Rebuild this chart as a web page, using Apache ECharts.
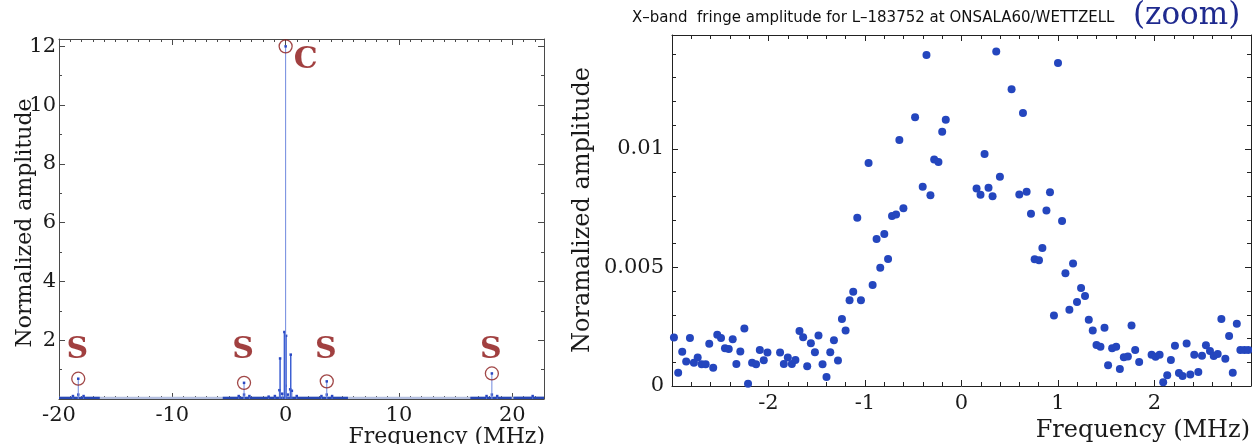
<!DOCTYPE html>
<html><head><meta charset="utf-8">
<script src="https://cdn.jsdelivr.net/npm/echarts@6/dist/echarts.min.js"></script>
<style>html,body{margin:0;padding:0;background:#fff}#c{width:1252px;height:444px}</style>
</head><body><div id="c"></div>
<script>
// ---------- Left panel: full fringe amplitude spectrum ----------
const peakFreq  = [-18.3, -3.67, 0.0, 3.63, 18.2];
const peakAmp   = [0.69, 0.55, 12.0, 0.60, 0.87];
const peakLabel = ['S', 'S', 'C', 'S', 'S'];
const lobeFreq  = [-0.49, -0.11, 0.04, 0.45];
const lobeAmp   = [1.38, 2.28, 2.15, 1.51];
const smallFreq = [-18.77, -18.3, -17.83, -4.14, -3.67, -3.20, -1.5, -0.95, -0.55, -0.3, -0.02, 0.2, 0.40, 0.55, 0.98, 3.16, 3.63, 4.10, 17.73, 18.2, 18.67, 21.8];
const smallAmp  = [0.10, 0.15, 0.10, 0.10, 0.15, 0.10, 0.08, 0.10, 0.30, 0.18, 0.45, 0.15, 0.33, 0.28, 0.10, 0.10, 0.15, 0.10, 0.10, 0.15, 0.10, 0.10];
const denseStart = [-20, -5.55, 16.3, 20.1];
const denseEnd   = [-16.4, 5.5, 19.95, 22.8];
const baseLevel  = 0.02;
const leftXTicks = [-20, -10, 0, 10, 20];
const leftYTicks = [2, 4, 6, 8, 10, 12];

// ---------- Right panel: zoom ----------
const zoomFreq = [-2.980,-2.936,-2.894,-2.853,-2.814,-2.773,-2.734,-2.693,-2.651,-2.614,-2.573,-2.531,-2.492,-2.451,-2.412,-2.371,-2.333,-2.292,-2.250,-2.212,-2.170,-2.129,-2.090,-2.049,-2.011,
  -1.880,-1.841,-1.800,-1.758,-1.721,-1.679,-1.641,-1.599,-1.561,-1.519,-1.482,-1.440,-1.399,-1.360,-1.322,-1.280,-1.239,-1.201,-1.160,-1.122,-1.080,-1.042,
  -0.963,-0.921,-0.880,-0.842,-0.800,-0.761,-0.720,-0.678,-0.644,-0.602,-0.481,-0.402,-0.363,-0.322,-0.283,-0.239,-0.200,-0.163,
  0.156,0.197,0.239,0.280,0.322,0.360,0.398,0.519,0.599,0.637,0.675,0.720,0.758,0.803,0.838,0.880,0.917,
  0.958,1.000,1.042,1.077,1.118,1.156,1.197,1.239,1.280,1.319,1.360,1.399,1.440,1.482,1.519,1.561,1.603,1.641,1.682,1.724,1.762,1.800,1.841,
  1.970,2.011,2.053,2.090,2.132,2.170,2.212,2.253,2.291,2.333,2.371,2.412,2.454,2.492,2.533,2.575,2.614,2.655,2.693,2.734,2.773,2.811,2.853,2.890,2.932,2.973];
const zoomAmp = [0.00204,0.00056,0.00144,0.00103,0.00202,0.00098,0.00120,0.00092,0.00092,0.00178,0.00077,0.00216,0.00202,0.00159,0.00156,0.00197,0.00093,0.00145,0.00242,0.00010,0.00098,0.00092,0.00152,0.00109,0.00141,
  0.00141,0.00093,0.00120,0.00093,0.00110,0.00232,0.00206,0.00083,0.00180,0.00142,0.00213,0.00092,0.00038,0.00142,0.00193,0.00107,0.00282,0.00234,0.00362,0.00397,0.00709,0.00362,
  0.00940,0.00426,0.00620,0.00499,0.00641,0.00535,0.00717,0.00723,0.01037,0.00749,0.01133,0.00840,0.01396,0.00804,0.00955,0.00944,0.01072,0.01123,
  0.00833,0.00806,0.00978,0.00836,0.00800,0.01410,0.00882,0.01251,0.00807,0.01151,0.00819,0.00726,0.00534,0.00530,0.00582,0.00740,0.00817,
  0.00297,0.01362,0.00696,0.00475,0.00321,0.00516,0.00354,0.00413,0.00379,0.00279,0.00234,0.00173,0.00166,0.00246,0.00087,0.00159,0.00165,0.00072,0.00121,0.00124,0.00255,0.00152,0.00101,
  0.00132,0.00123,0.00132,0.00016,0.00045,0.00110,0.00170,0.00055,0.00042,0.00179,0.00048,0.00132,0.00059,0.00128,0.00172,0.00148,0.00127,0.00135,0.00282,0.00115,0.00211,0.00056,0.00262,0.00152,0.00152,0.00152];

const SERIF = '"DejaVu Serif", "Liberation Serif", serif';
const chart = echarts.init(document.getElementById('c'), null, {renderer: 'canvas'});

const leftFrame = '#4a4a4a', rightFrame = '#222';
function axisCommon(color, showLabel, labelSize) {
  return {
    splitLine: {show: false},
    axisLine: {show: true, onZero: false, lineStyle: {color: color, width: 1}},
    axisTick: {show: true, inside: true, length: 6, lineStyle: {color: color}},
    minorTick: {show: true, length: 3, lineStyle: {color: color}},
    axisLabel: {show: showLabel, color: '#1a1a1a', fontFamily: SERIF, fontSize: labelSize, margin: 5,
      showMinLabel: true, showMaxLabel: false}
  };
}

function stemRender(stemColor, stemWidth, dotColor, dotSize) {
  return function (params, api) {
    const x = api.value(0), v = api.value(1);
    const p0 = api.coord([x, 0]);
    const p1 = api.coord([x, v]);
    return {type: 'group', children: [
      {type: 'line', shape: {x1: p0[0], y1: p0[1], x2: p1[0], y2: p1[1]}, style: {stroke: stemColor, lineWidth: stemWidth}},
      {type: 'rect', shape: {x: p1[0] - dotSize / 2, y: p1[1] - dotSize / 2, width: dotSize, height: dotSize}, style: {fill: dotColor}}
    ]};
  };
}
function bandRender(color, width) {
  return function (params, api) {
    const a = api.coord([api.value(0), api.value(2)]);
    const b = api.coord([api.value(1), api.value(2)]);
    return {type: 'line', shape: {x1: a[0], y1: a[1], x2: b[0], y2: b[1]}, style: {stroke: color, lineWidth: width}};
  };
}

const xmin = leftXTicks[0], xmaxL = 22.8;
const option = {
  animation: false,
  backgroundColor: '#fff',
  grid: [
    {left: 59, top: 39, width: 485, height: 360, outerBoundsMode: 'none', containLabel: false},
    {left: 672, top: 35, width: 579, height: 351, outerBoundsMode: 'none', containLabel: false}
  ],
  xAxis: [
    Object.assign(axisCommon(leftFrame, true, 20), {gridIndex: 0, type: 'value', position: 'bottom', min: xmin, max: xmaxL, interval: 10,
      minorTick: {show: true, splitNumber: 10, length: 3, lineStyle: {color: leftFrame}},
      axisLabel: {color: '#1a1a1a', fontFamily: SERIF, fontSize: 21, margin: 6, showMaxLabel: false,
        formatter: v => leftXTicks.indexOf(v) >= 0 ? String(v) : ''}}),
    Object.assign(axisCommon(leftFrame, false, 20), {gridIndex: 0, type: 'value', position: 'top', min: xmin, max: xmaxL, interval: 10,
      minorTick: {show: true, splitNumber: 10, length: 3, lineStyle: {color: leftFrame}}}),
    Object.assign(axisCommon(rightFrame, true, 21), {gridIndex: 1, type: 'value', position: 'bottom', min: -3, max: 3, interval: 1,
      minorTick: {show: true, splitNumber: 5, length: 4, lineStyle: {color: rightFrame}},
      axisLabel: {color: '#1a1a1a', fontFamily: SERIF, fontSize: 21, margin: 7, showMinLabel: false, showMaxLabel: false}}),
    Object.assign(axisCommon(rightFrame, false, 21), {gridIndex: 1, type: 'value', position: 'top', min: -3, max: 3, interval: 1,
      minorTick: {show: true, splitNumber: 5, length: 4, lineStyle: {color: rightFrame}}})
  ],
  yAxis: [
    Object.assign(axisCommon(leftFrame, true, 20), {gridIndex: 0, type: 'value', position: 'left', min: 0, max: 12.25, interval: 2,
      minorTick: {show: true, splitNumber: 2, length: 3, lineStyle: {color: leftFrame}},
      axisLabel: {color: '#1a1a1a', fontFamily: SERIF, fontSize: 21, margin: 3, showMaxLabel: false,
        formatter: v => leftYTicks.indexOf(v) >= 0 ? String(v) : ''}}),
    Object.assign(axisCommon(leftFrame, false, 20), {gridIndex: 0, type: 'value', position: 'right', min: 0, max: 12.25, interval: 2,
      minorTick: {show: true, splitNumber: 2, length: 3, lineStyle: {color: leftFrame}}}),
    Object.assign(axisCommon(rightFrame, true, 21), {gridIndex: 1, type: 'value', position: 'left', min: 0, max: 0.0148, interval: 0.005,
      minorTick: {show: true, splitNumber: 5, length: 4, lineStyle: {color: rightFrame}},
      axisLabel: {color: '#1a1a1a', fontFamily: SERIF, fontSize: 21, margin: 8, showMaxLabel: false}}),
    Object.assign(axisCommon(rightFrame, false, 21), {gridIndex: 1, type: 'value', position: 'right', min: 0, max: 0.0148, interval: 0.005,
      minorTick: {show: true, splitNumber: 5, length: 4, lineStyle: {color: rightFrame}}})
  ],
  graphic: [
    {type: 'text', left: 632, top: 11, style: {text: 'X\u2013band  fringe amplitude for L\u2013183752 at ONSALA60/WETTZELL', fill: '#111',
      font: '15px "DejaVu Sans", sans-serif'}},
    {type: 'text', left: 1133, top: 0, style: {text: '(zoom)', fill: '#1f2a8f', font: '31px ' + SERIF}},
    {type: 'text', x: 25, y: 223, rotation: Math.PI / 2, style: {text: 'Normalized amplitude', fill: '#1a1a1a',
      font: '22px ' + SERIF, align: 'center', verticalAlign: 'middle'}},
    {type: 'text', x: 545, y: 437, style: {text: 'Frequency (MHz)', fill: '#1a1a1a', font: '22px ' + SERIF, align: 'right', verticalAlign: 'middle'}},
    {type: 'text', x: 583, y: 210, rotation: Math.PI / 2, style: {text: 'Noramalized amplitude', fill: '#1a1a1a',
      font: '24px ' + SERIF, align: 'center', verticalAlign: 'middle'}},
    {type: 'text', x: 1250, y: 431, style: {text: 'Frequency (MHz)', fill: '#1a1a1a', font: '24px ' + SERIF, align: 'right', verticalAlign: 'middle'}}
  ],
  series: [
    {type: 'custom', name: 'base', xAxisIndex: 0, yAxisIndex: 0, clip: true, z: 3,
      data: [[xmin, xmaxL, baseLevel]], encode: {x: [0, 1], y: 2}, renderItem: bandRender('#b4bfe0', 3.5)},
    {type: 'custom', name: 'dense', xAxisIndex: 0, yAxisIndex: 0, clip: true, z: 4,
      data: denseStart.map((s, i) => [s, denseEnd[i], baseLevel]), encode: {x: [0, 1], y: 2}, renderItem: bandRender('#2747b5', 3.5)},
    {type: 'custom', name: 'small', xAxisIndex: 0, yAxisIndex: 0, clip: true, z: 5,
      data: smallFreq.map((f, i) => [f, smallAmp[i]]), encode: {x: 0, y: 1}, renderItem: stemRender('#5a75d6', 1, '#2a48c2', 2.5)},
    {type: 'custom', name: 'lobes', xAxisIndex: 0, yAxisIndex: 0, clip: true, z: 5,
      data: lobeFreq.map((f, i) => [f, lobeAmp[i]]), encode: {x: 0, y: 1}, renderItem: stemRender('#3d5fd2', 1.5, '#2a48c2', 2.5)},
    {type: 'custom', name: 'peaks', xAxisIndex: 0, yAxisIndex: 0, clip: true, z: 5,
      data: peakFreq.map((f, i) => [f, peakAmp[i]]), encode: {x: 0, y: 1}, renderItem: stemRender('#6f88de', 1, '#2a48c2', 2.5)},
    {type: 'scatter', name: 'rings', xAxisIndex: 0, yAxisIndex: 0, z: 6, symbol: 'circle', symbolSize: 13,
      itemStyle: {color: 'rgba(0,0,0,0)', borderColor: '#8a1a1a', borderWidth: 1.3},
      data: peakFreq.map((f, i) => [f, peakAmp[i]]),
      label: {show: true, formatter: p => peakLabel[p.dataIndex], color: '#8a1010', fontFamily: SERIF, fontWeight: 'bold', fontSize: 30,
        position: 'inside'}
    },
    {type: 'scatter', name: 'zoom', xAxisIndex: 2, yAxisIndex: 2, z: 5, symbol: 'circle', symbolSize: 8,
      itemStyle: {color: '#2446be', opacity: 1},
      data: zoomFreq.map((f, i) => [f, zoomAmp[i]])}
  ]
};
chart.setOption(option);
// place the S labels at a common height above the baseline (axis value 1.69); C label beside its ring
const sY = chart.convertToPixel({xAxisIndex: 0, yAxisIndex: 0}, [0, 1.69])[1];
chart.setOption({series: [{}, {}, {}, {}, {}, {
  labelLayout: function (p) {
    const cx = p.rect.x + p.rect.width / 2, cy = p.rect.y + p.rect.height / 2;
    if (peakLabel[p.dataIndex] === 'C') return {x: cx + 20, y: cy + 14, align: 'center', verticalAlign: 'middle'};
    return {x: cx - 1, y: sY + 1, align: 'center', verticalAlign: 'middle'};
  }
}]});
</script></body></html>
